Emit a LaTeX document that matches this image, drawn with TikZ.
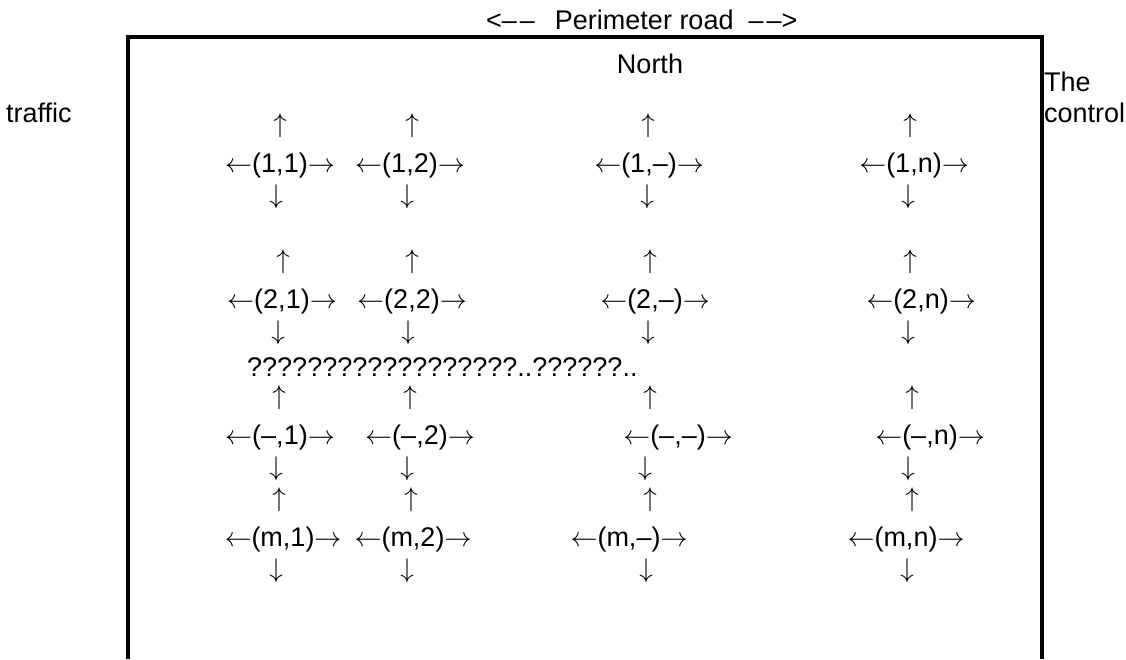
\documentclass[tikz,border=0pt]{standalone}
\usepackage{fontspec}
\setmainfont{Liberation Sans}
% let the arrow font scale to any size
\DeclareFontShape{OMS}{cmsy}{m}{n}{<->cmsy10}{}
% one junction of the grid: up arrow, label with side arrows, down arrow
% #1 name, #2 x of up arrow, #3 x of label, #4 x of down arrow, #5 label baseline, #6 label
\newcommand{\junction}[6]{%
  \node[lbl] (#1u) at (#2,#5-40) {$\uparrow$};
  \node[lbl] (#1)  at (#3,#5)    {$\leftarrow$#6$\rightarrow$};
  \node[lbl] (#1d) at (#4,#5+31) {$\downarrow$};
}
\begin{document}
\begin{tikzpicture}[x=1pt,y=-1pt,
  lbl/.style={inner sep=0pt, anchor=base, font=\fontsize{27}{34}\selectfont},
  lblw/.style={lbl, anchor=base west},
  wall/.style={line width=3.2pt}]
\useasboundingbox (0,0) rectangle (1126,659);

% the enclosing road, open at the bottom
\coordinate (bl) at (128,659);
\coordinate (tl) at (128,37);
\coordinate (tr) at (1042,37);
\coordinate (br) at (1042,659);
\draw[wall] (bl) -- (tl) -- (tr) -- (br);

% surrounding texts
\node[lblw] (road) at (486,29) {<–\kern3pt–\hspace{20pt}Perimeter road\hspace{15pt}–\kern3pt–>};
\node[lbl] (north) at (650,73) {North};
\node[lblw] (traffic) at (6,122) {traffic};
\node[lblw] (the) at (1044,91) {The};
\node[lblw] (control) at (1044,122) {control};

% row 1
\junction{j11}{280}{280}{276}{172}{(1,1)}
\junction{j12}{412}{410}{407}{172}{(1,2)}
\junction{j1x}{648}{649}{647}{172}{(1,–)}
\junction{j1n}{910}{914}{908}{172}{(1,n)}

% row 2
\junction{j21}{283}{282}{278}{308}{(2,1)}
\junction{j22}{412}{412}{408}{308}{(2,2)}
\junction{j2x}{650}{655}{648}{308}{(2,–)}
\junction{j2n}{910}{921}{908}{308}{(2,n)}

% elided rows
\node[lblw] (gap) at (247,376) {??????????????????..??????..};

% row 3
\junction{jx1}{279}{280}{276}{444}{(–,1)}
\junction{jx2}{410}{420}{407}{444}{(–,2)}
\junction{jxx}{650}{678}{645}{444}{(–,–)}
\junction{jxn}{912}{930}{908}{444}{(–,n)}

% row m
\junction{jm1}{279}{283}{276}{546}{(m,1)}
\junction{jm2}{411}{413}{407}{546}{(m,2)}
\junction{jmx}{650}{629}{646}{546}{(m,–)}
\junction{jmn}{912}{906}{907}{546}{(m,n)}
\end{tikzpicture}
\end{document}
